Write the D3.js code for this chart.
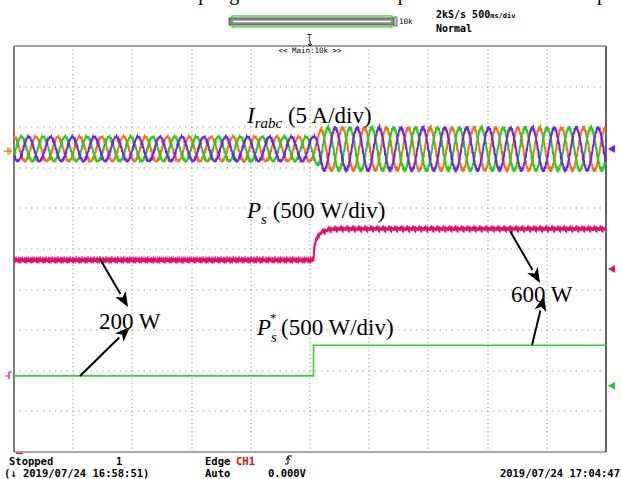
<!DOCTYPE html>
<html><head><meta charset="utf-8">
<script src="https://cdn.jsdelivr.net/npm/d3@7"></script>
<style>body{margin:0;background:#fff}svg{display:block}</style>
</head><body><svg id="c" width="622" height="479"></svg>
<script>
// ---- data ----
const timeDomainMs = [-2500, 2500];          // 10 div x 500 ms
const divDomain = [-5, 5];                    // 10 vertical divisions
const stepTimeMs = 30;
// three phase currents (A), 5 A/div
const currentScaleAPerDiv = 5;
const currentOffsetDiv = 2.46;
const currentAmpT = [-2500, 30, 110, 2500];
const currentAmpA = [1.5, 1.5, 2.6, 2.6];
const currentPeriodMs = 185;
const currentPhasesDeg = [90, 330, 210];
const currentColors = ["#e8780e", "#20cc20", "#7a1ee6"];
const currentRippleA = [0.12, -0.08, 0.05, -0.15, 0.10, -0.04, 0.14, -0.10, 0.02, -0.12, 0.08];
// active power Ps (W), 500 W/div
const psScaleWPerDiv = 500;
const psOffsetDiv = -0.49;
const psT = [-2500, 30, 34, 40, 51, 68, 93, 127, 169, 253, 2500];
const psW = [110, 110, 234, 300, 345, 406, 443, 468, 486, 493, 493];
const psRippleW = [12, -8, 15, -14, 6, -3, 18, -10, -16, 9, 4, -12, 14, -6, 10, -18, 7];
// reference power Ps* (W), 500 W/div
const psRefOffsetDiv = -3.37;
const psRefT = [-2500, 30, 30, 2500];
const psRefW = [123, 123, 499, 499];

// ---- drawing ----
const svg = d3.select("#c");
const L = 14, R = 606, T = 46, B = 452;
const x = d3.scaleLinear().domain(timeDomainMs).range([L, R]);
const y = d3.scaleLinear().domain(divDomain).range([B, T]);
const mono = "'DejaVu Sans Mono', monospace";
const serif = "'Liberation Serif', 'Times New Roman', serif";

// grid dots
const g = svg.append("g").attr("fill", "#9a9a9a");
for (let i = 1; i < 10; i++) {
  const gx = L + (R - L) * i / 10;
  for (let k = 1; k < 100; k++) {
    const gy = T + (B - T) * k / 100;
    g.append("rect").attr("x", Math.round(gx) - 0.5).attr("y", gy - 0.6).attr("width", 1).attr("height", 1.3);
  }
}
for (let j = 1; j < 10; j++) {
  const gy = T + (B - T) * j / 10;
  for (let k = 1; k < 100; k++) {
    const gx = L + (R - L) * k / 100;
    g.append("rect").attr("x", gx - 0.6).attr("y", Math.round(gy) - 0.5).attr("width", 1.3).attr("height", 1);
  }
}

// frame
svg.append("line").attr("x1", L).attr("x2", R).attr("y1", T).attr("y2", T).attr("stroke", "#444").attr("stroke-width", 1.2);
svg.append("line").attr("x1", L).attr("x2", R).attr("y1", B).attr("y2", B).attr("stroke", "#555").attr("stroke-width", 1.2);
svg.append("line").attr("x1", L).attr("x2", L).attr("y1", T).attr("y2", B).attr("stroke", "#7a7a7a").attr("stroke-width", 2);
svg.append("line").attr("x1", R).attr("x2", R).attr("y1", T).attr("y2", B).attr("stroke", "#222").attr("stroke-width", 1.4);

// traces
svg.append("clipPath").attr("id", "pc").append("rect").attr("x", L).attr("y", T).attr("width", R - L).attr("height", B - T);
const traces = svg.append("g").attr("clip-path", "url(#pc)");
const ampScale = d3.scaleLinear().domain(currentAmpT).range(currentAmpA);
const line = d3.line().x(d => x(d[0])).y(d => y(d[1]));
const ts = d3.range(timeDomainMs[0], timeDomainMs[1] + 1, 2);
currentPhasesDeg.forEach((ph, p) => {
  const pts = ts.map((t, i) => {
    const a = ampScale(t);
    const v = a * Math.sin(2 * Math.PI * (t - timeDomainMs[0]) / currentPeriodMs + ph * Math.PI / 180)
      + currentRippleA[(i + p * 4) % currentRippleA.length] * (a / 1.5);
    return [t, currentOffsetDiv + v / currentScaleAPerDiv];
  });
  traces.append("path").attr("d", line(pts)).attr("fill", "none")
    .attr("stroke", currentColors[p]).attr("stroke-width", 1.9);
});

const psScale = d3.scaleLinear().domain(psT).range(psW);
const tsP = d3.range(timeDomainMs[0], timeDomainMs[1] + 1, 3);
const psPts = tsP.map((t, i) => {
  const k = t < stepTimeMs ? 0.6 : 1.3;
  return [t, psOffsetDiv + (psScale(t) + psRippleW[i % psRippleW.length] * k) / psScaleWPerDiv];
});
traces.append("path").attr("d", line(psPts)).attr("fill", "none").attr("stroke", "#e0106c").attr("stroke-width", 2);

const refPts = psRefT.map((t, i) => [t, psRefOffsetDiv + psRefW[i] / psScaleWPerDiv]);
traces.append("path").attr("d", line(refPts)).attr("fill", "none").attr("stroke", "#22dd22").attr("stroke-width", 1.6);

// channel markers on the right
[[currentOffsetDiv, "#7a1ee6"], [psOffsetDiv, "#e0106c"], [psRefOffsetDiv, "#22cc22"]].forEach(([d, c]) => {
  const yy = y(d);
  svg.append("path").attr("d", `M608,${yy} L615,${yy - 4} L615,${yy + 4} Z`).attr("fill", c);
});
// left markers
{
  const yy = y(currentOffsetDiv) + 2;
  svg.append("path").attr("d", `M4,${yy} H12 M8,${yy - 4} V${yy + 4} M10,${yy - 3} V${yy + 3}`)
    .attr("stroke", "#e8780e").attr("stroke-width", 1.2).attr("fill", "none");
  const yt = 376;
  svg.append("path").attr("d", `M5,${yt} H9 V${yt - 4} H12 M9,${yt} V${yt + 3}`)
    .attr("stroke", "#e0106c").attr("stroke-width", 1.2).attr("fill", "none");
  svg.append("line").attr("x1", 16).attr("x2", 23).attr("y1", B + 1.5).attr("y2", B + 1.5).attr("stroke", "#e0106c").attr("stroke-width", 1.2);
}

// annotations
function arrow(x1, y1, x2, y2) {
  const a = Math.atan2(y2 - y1, x2 - x1), hl = 15, hw = 6;
  const bx = x2 - hl * Math.cos(a), by = y2 - hl * Math.sin(a);
  svg.append("line").attr("x1", x1).attr("y1", y1).attr("x2", bx).attr("y2", by).attr("stroke", "#000").attr("stroke-width", 2);
  svg.append("path").attr("d", `M${x2},${y2} L${bx + hw * Math.sin(a)},${by - hw * Math.cos(a)} L${bx + 4 * Math.cos(a)},${by + 4 * Math.sin(a)} L${bx - hw * Math.sin(a)},${by + hw * Math.cos(a)} Z`).attr("fill", "#000");
}
arrow(100, 259, 128, 307);
arrow(80, 376, 130, 327);
arrow(510, 231, 540, 283);
arrow(532, 345, 544, 296);

const fs = 23;
function label(xx, yy) { return svg.append("text").attr("x", xx).attr("y", yy).attr("font-family", serif).attr("font-size", fs).attr("fill", "#000"); }
{
  const t = label(247, 123);
  t.append("tspan").attr("font-style", "italic").text("I");
  t.append("tspan").attr("font-style", "italic").attr("font-size", 15).attr("dy", 5).text("rabc");
  t.append("tspan").attr("dy", -5).text(" (5 A/div)");
}
{
  const t = label(247, 218);
  t.append("tspan").attr("font-style", "italic").text("P");
  t.append("tspan").attr("font-style", "italic").attr("font-size", 15).attr("dy", 6).text("s");
  t.append("tspan").attr("dy", -6).text(" (500 W/div)");
}
{
  const t = label(257, 335);
  t.append("tspan").attr("font-style", "italic").text("P");
  t.append("tspan").attr("font-style", "italic").attr("font-size", 15).attr("dy", 7).text("s");
  svg.append("text").attr("x", 270).attr("y", 322).attr("font-family", serif).attr("font-size", 13).text("*");
  svg.append("text").attr("x", 281).attr("y", 335).attr("font-family", serif).attr("font-size", fs).text("(500 W/div)");
}
label(99, 329).text("200 W");
label(511, 302).text("600 W");

// cut-off caption at very top
svg.append("text").attr("x", 166).attr("y", 0).attr("font-family", serif).attr("font-size", 20).text("sampling");
svg.append("text").attr("x", 390).attr("y", 0).attr("font-family", serif).attr("font-size", 20).text("sp");
svg.append("text").attr("x", 597).attr("y", 0).attr("font-family", serif).attr("font-size", 20).text("p");

// scope header
svg.append("rect").attr("x", 229).attr("y", 18).attr("width", 166).attr("height", 7).attr("fill", "#888").attr("stroke", "#555");
svg.append("line").attr("x1", 233).attr("x2", 391).attr("y1", 21.5).attr("y2", 21.5).attr("stroke", "#fff").attr("stroke-width", 1.5);
svg.append("rect").attr("x", 232).attr("y", 16).attr("width", 160).attr("height", 11).attr("fill", "none").attr("stroke", "#22cc22").attr("stroke-width", 1.2);
svg.append("rect").attr("x", 394).attr("y", 17).attr("width", 3).attr("height", 9).attr("fill", "#ccc").attr("stroke", "#555").attr("stroke-width", 0.8);
svg.append("text").attr("x", 399).attr("y", 24).attr("font-family", mono).attr("font-size", 7.5).text("10k");
{
  const t = svg.append("text").attr("x", 436).attr("y", 18).attr("font-family", mono).attr("font-size", 10).attr("font-weight", "bold");
  t.append("tspan").text("2kS/s 500");
  t.append("tspan").attr("font-size", 7).text("ms/div");
}
svg.append("text").attr("x", 436).attr("y", 32).attr("font-family", mono).attr("font-size", 10).attr("font-weight", "bold").text("Normal");
svg.append("text").attr("x", 307).attr("y", 41).attr("font-family", mono).attr("font-size", 8).text("T");
svg.append("path").attr("d", "M310,41 V46 M308,44 L310,46 L312,44").attr("stroke", "#000").attr("fill", "none");
svg.append("text").attr("x", 310).attr("y", 53).attr("text-anchor", "middle").attr("font-family", mono).attr("font-size", 7.5).text("<< Main:10k >>");

// status bar
function st(xx, yy, s, c) { return svg.append("text").attr("x", xx).attr("y", yy).attr("font-family", mono).attr("font-size", 10.5).attr("font-weight", "bold").attr("fill", c || "#000").text(s); }
st(9, 465, "Stopped");
st(116, 465, "1");
st(205, 465, "Edge");
st(236, 465, "CH1", "#e00000");
svg.append("path").attr("d", "M285,464 H288 V456 H292 M286,460 L288,457 L290,460").attr("stroke", "#000").attr("fill", "none");
st(4, 477, "(\u2193 2019/07/24 16:58:51)");
st(205, 477, "Auto");
st(268, 477, "0.000V");
svg.append("text").attr("x", 620).attr("y", 477).attr("text-anchor", "end").attr("font-family", mono).attr("font-size", 10.5).attr("font-weight", "bold").text("2019/07/24 17:04:47");
</script></body></html>
